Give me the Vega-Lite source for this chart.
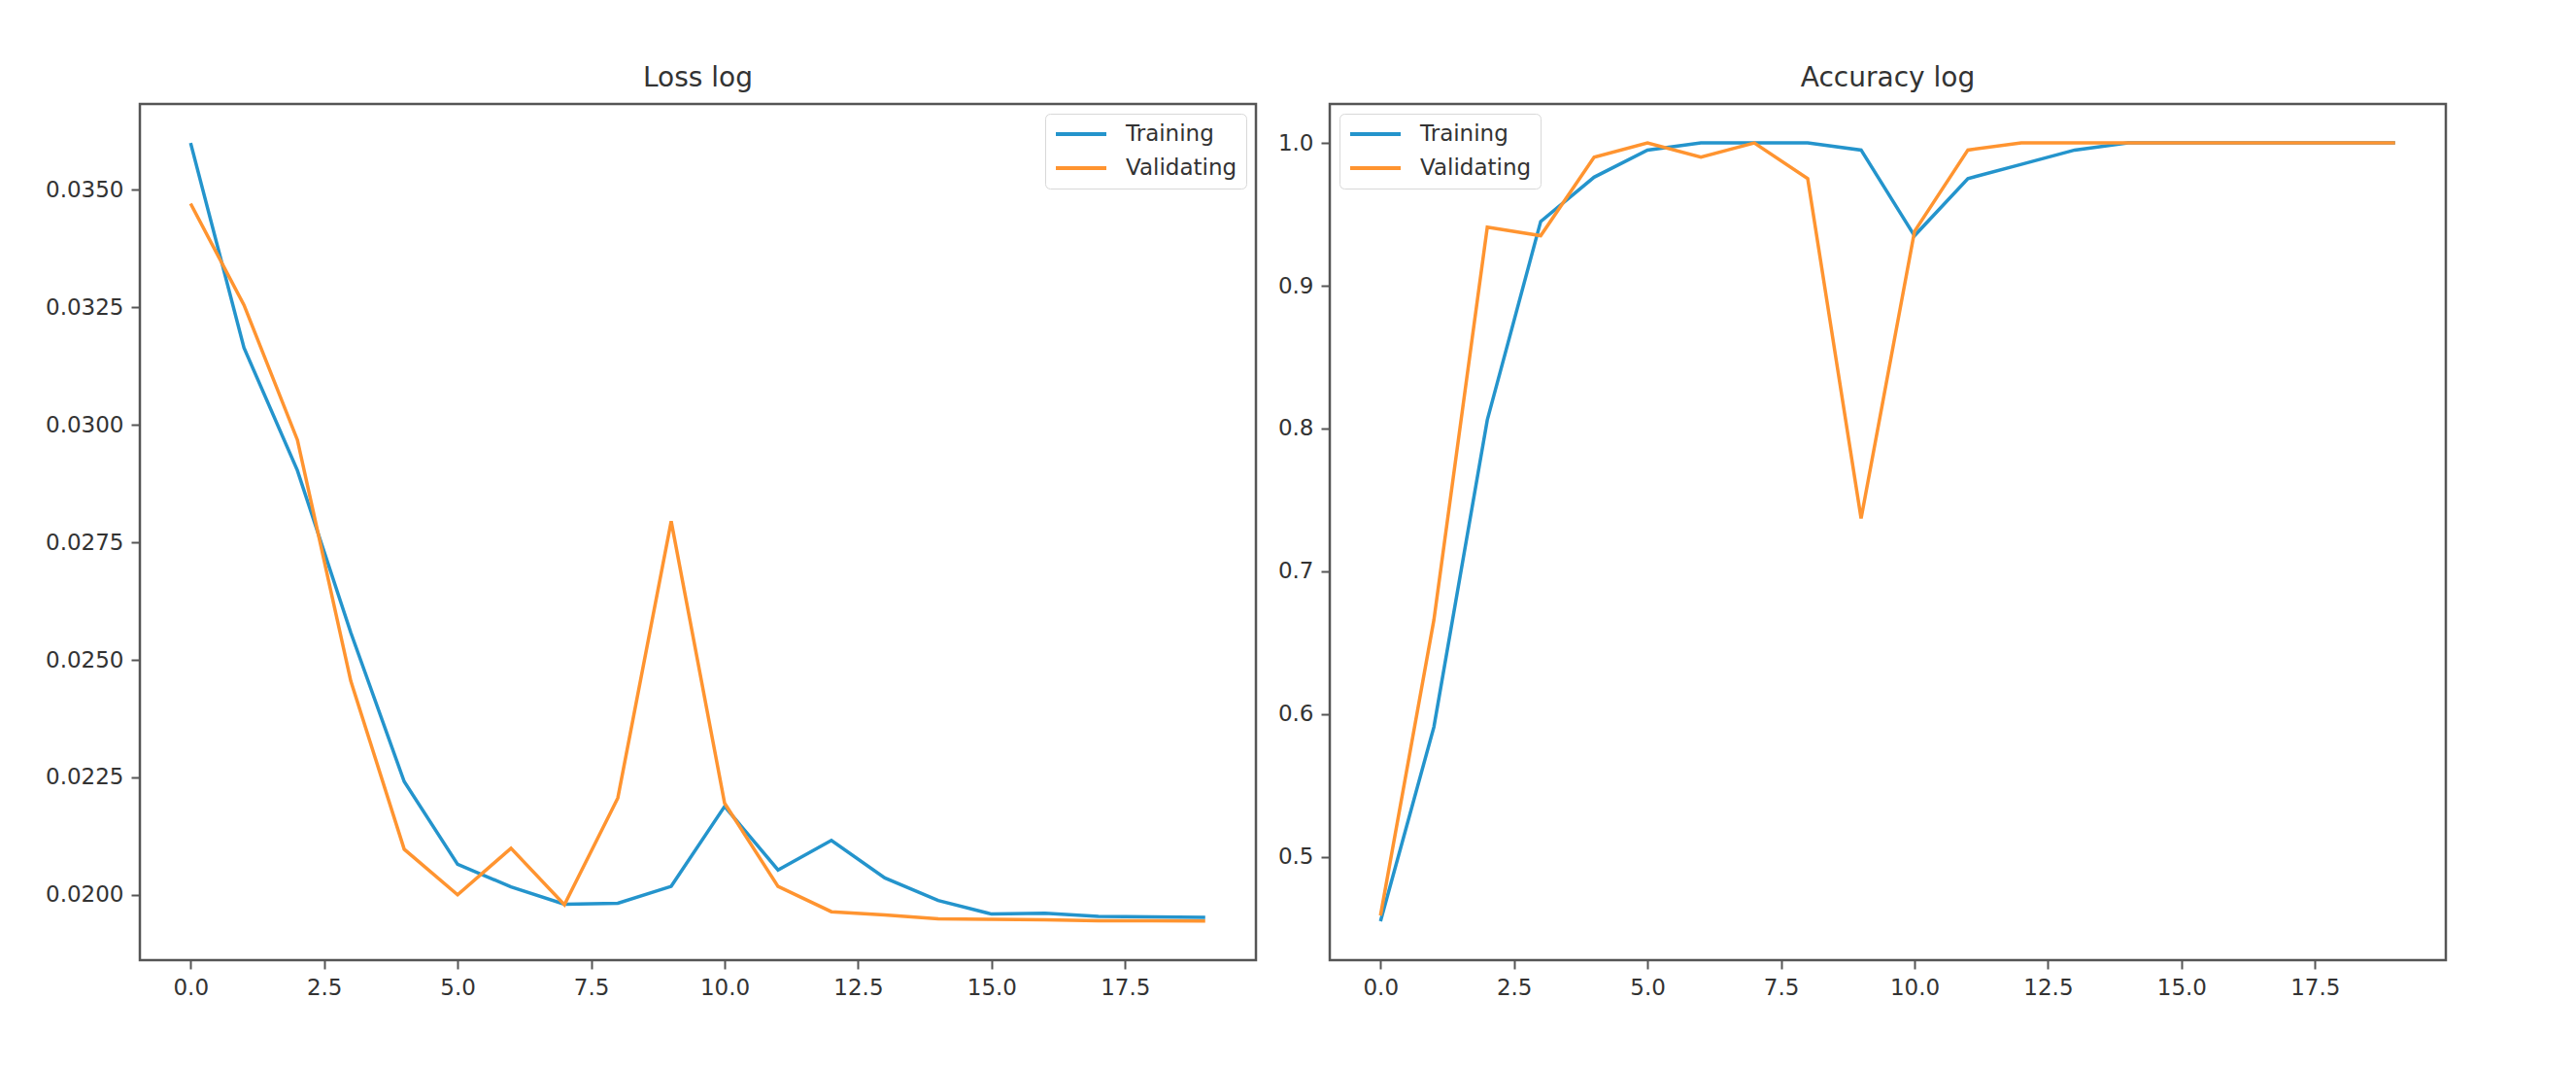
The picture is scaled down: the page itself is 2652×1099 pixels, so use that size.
{
  "$schema": "https://vega.github.io/schema/vega-lite/v6.json",
  "background": "white",
  "padding": {"left": 45, "top": 65, "right": 10, "bottom": 10},
  "data": {"values": [
    {"epoch": 0, "series": "Training", "loss": 0.0360, "acc": 0.455},
    {"epoch": 1, "series": "Training", "loss": 0.03164, "acc": 0.591},
    {"epoch": 2, "series": "Training", "loss": 0.02903, "acc": 0.806},
    {"epoch": 3, "series": "Training", "loss": 0.02558, "acc": 0.945},
    {"epoch": 4, "series": "Training", "loss": 0.02241, "acc": 0.976},
    {"epoch": 5, "series": "Training", "loss": 0.02065, "acc": 0.995},
    {"epoch": 6, "series": "Training", "loss": 0.02017, "acc": 1.0},
    {"epoch": 7, "series": "Training", "loss": 0.01980, "acc": 1.0},
    {"epoch": 8, "series": "Training", "loss": 0.01982, "acc": 1.0},
    {"epoch": 9, "series": "Training", "loss": 0.02018, "acc": 0.995},
    {"epoch": 10, "series": "Training", "loss": 0.02188, "acc": 0.935},
    {"epoch": 11, "series": "Training", "loss": 0.02053, "acc": 0.975},
    {"epoch": 12, "series": "Training", "loss": 0.02116, "acc": 0.985},
    {"epoch": 13, "series": "Training", "loss": 0.02036, "acc": 0.995},
    {"epoch": 14, "series": "Training", "loss": 0.01988, "acc": 1.0},
    {"epoch": 15, "series": "Training", "loss": 0.01959, "acc": 1.0},
    {"epoch": 16, "series": "Training", "loss": 0.01961, "acc": 1.0},
    {"epoch": 17, "series": "Training", "loss": 0.01954, "acc": 1.0},
    {"epoch": 18, "series": "Training", "loss": 0.01953, "acc": 1.0},
    {"epoch": 19, "series": "Training", "loss": 0.01952, "acc": 1.0},
    {"epoch": 0, "series": "Validating", "loss": 0.03471, "acc": 0.459},
    {"epoch": 1, "series": "Validating", "loss": 0.03255, "acc": 0.666},
    {"epoch": 2, "series": "Validating", "loss": 0.02968, "acc": 0.941},
    {"epoch": 3, "series": "Validating", "loss": 0.02455, "acc": 0.935},
    {"epoch": 4, "series": "Validating", "loss": 0.02097, "acc": 0.990},
    {"epoch": 5, "series": "Validating", "loss": 0.02000, "acc": 1.0},
    {"epoch": 6, "series": "Validating", "loss": 0.02099, "acc": 0.990},
    {"epoch": 7, "series": "Validating", "loss": 0.01979, "acc": 1.0},
    {"epoch": 8, "series": "Validating", "loss": 0.02206, "acc": 0.975},
    {"epoch": 9, "series": "Validating", "loss": 0.02795, "acc": 0.737},
    {"epoch": 10, "series": "Validating", "loss": 0.02195, "acc": 0.938},
    {"epoch": 11, "series": "Validating", "loss": 0.02018, "acc": 0.995},
    {"epoch": 12, "series": "Validating", "loss": 0.01964, "acc": 1.0},
    {"epoch": 13, "series": "Validating", "loss": 0.01957, "acc": 1.0},
    {"epoch": 14, "series": "Validating", "loss": 0.01949, "acc": 1.0},
    {"epoch": 15, "series": "Validating", "loss": 0.01948, "acc": 1.0},
    {"epoch": 16, "series": "Validating", "loss": 0.01947, "acc": 1.0},
    {"epoch": 17, "series": "Validating", "loss": 0.01945, "acc": 1.0},
    {"epoch": 18, "series": "Validating", "loss": 0.01945, "acc": 1.0},
    {"epoch": 19, "series": "Validating", "loss": 0.01944, "acc": 1.0}
  ]},
  "config": {
    "font": "DejaVu Sans",
    "view": {"stroke": "#555555", "strokeWidth": 2.5},
    "axis": {"grid": false, "domain": false, "tickColor": "#555555", "tickSize": 9, "tickWidth": 2, "labelFontSize": 23, "labelColor": "#333333", "labelPadding": 8, "labelFont": "DejaVu Sans"},
    "title": {"fontSize": 28, "fontWeight": "normal", "color": "#333333", "baseline": "alphabetic", "offset": 12, "anchor": "middle", "font": "DejaVu Sans"},
    "legend": {"symbolType": "stroke", "symbolSize": 2704, "symbolStrokeWidth": 4, "labelFontSize": 23, "labelColor": "#333333", "labelOffset": 18, "padding": 9, "rowPadding": 11, "clipHeight": 24, "strokeColor": "#d8d8d8", "fillColor": "white", "cornerRadius": 5, "labelFont": "DejaVu Sans"},
    "concat": {"spacing": 19}
  },
  "hconcat": [
    {
      "width": 1149, "height": 881,
      "title": {"text": "Loss log"},
      "mark": {"type": "line", "strokeWidth": 3.5},
      "encoding": {
        "x": {"field": "epoch", "type": "quantitative", "title": null, "scale": {"domain": [-0.95, 19.95], "nice": false, "zero": false}, "axis": {"values": [0, 2.5, 5, 7.5, 10, 12.5, 15, 17.5], "format": ".1f"}},
        "y": {"field": "loss", "type": "quantitative", "title": null, "scale": {"domain": [0.01861, 0.03683], "nice": false, "zero": false}, "axis": {"values": [0.02, 0.0225, 0.025, 0.0275, 0.03, 0.0325, 0.035], "format": ".4f"}},
        "color": {"field": "series", "type": "nominal", "scale": {"domain": ["Training", "Validating"], "range": ["#2494cc", "#ff9430"]}, "legend": {"title": null, "orient": "top-right", "offset": 10}}
      }
    },
    {
      "width": 1149, "height": 881,
      "title": {"text": "Accuracy log"},
      "mark": {"type": "line", "strokeWidth": 3.5},
      "encoding": {
        "x": {"field": "epoch", "type": "quantitative", "title": null, "scale": {"domain": [-0.95, 19.95], "nice": false, "zero": false}, "axis": {"values": [0, 2.5, 5, 7.5, 10, 12.5, 15, 17.5], "format": ".1f"}},
        "y": {"field": "acc", "type": "quantitative", "title": null, "scale": {"domain": [0.42775, 1.02725], "nice": false, "zero": false}, "axis": {"values": [0.5, 0.6, 0.7, 0.8, 0.9, 1.0], "format": ".1f"}},
        "color": {"field": "series", "type": "nominal", "scale": {"domain": ["Training", "Validating"], "range": ["#2494cc", "#ff9430"]}, "legend": {"title": null, "orient": "top-left", "offset": 10}}
      }
    }
  ],
  "resolve": {"scale": {"color": "independent", "y": "independent"}, "legend": {"color": "independent"}}
}
